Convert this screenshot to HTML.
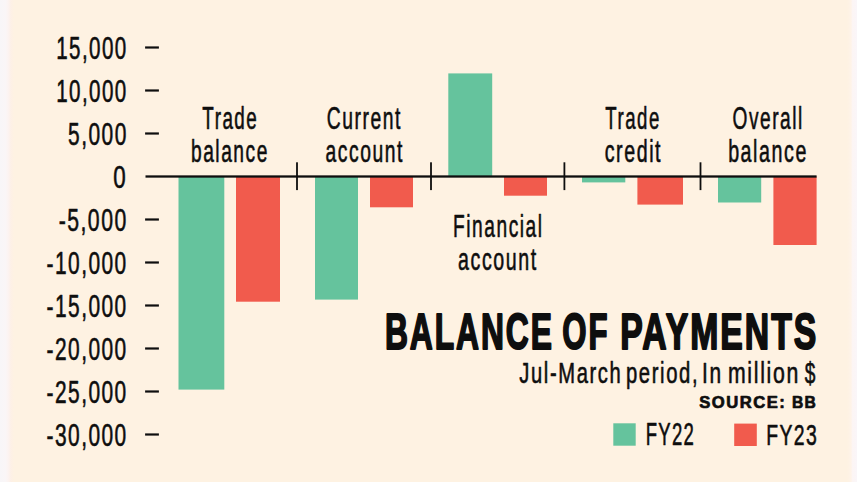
<!DOCTYPE html>
<html><head><meta charset="utf-8"><style>
html,body{margin:0;padding:0;background:#FEF2E2;width:857px;height:482px;overflow:hidden}
svg{display:block;font-family:"Liberation Sans",sans-serif}
</style></head><body>
<svg width="857" height="482" viewBox="0 0 857 482">
<rect x="0" y="0" width="857" height="482" fill="#FEF2E2"/>
<defs><linearGradient id="gl" x1="0" y1="0" x2="1" y2="0"><stop offset="0" stop-color="#F8F6F8"/><stop offset="0.4" stop-color="#FAF6F7"/><stop offset="0.62" stop-color="#FCF3F0"/><stop offset="0.78" stop-color="#FDF0E6"/><stop offset="1" stop-color="#FEF2E2"/></linearGradient><linearGradient id="gr" x1="0" y1="0" x2="1" y2="0"><stop offset="0" stop-color="#FEF2E2"/><stop offset="0.4" stop-color="#FEF3E8"/><stop offset="0.55" stop-color="#FCF5F4"/><stop offset="1" stop-color="#FAF6F9"/></linearGradient></defs>
<rect x="0" y="0" width="14" height="482" fill="url(#gl)"/>
<rect x="847" y="0" width="10" height="482" fill="url(#gr)"/>
<rect x="178.5" y="176.5" width="45.8" height="213.1" fill="#65C39D"/>
<rect x="236" y="176.5" width="44.0" height="125.2" fill="#F15B4D"/>
<rect x="315" y="176.5" width="43.0" height="123.1" fill="#65C39D"/>
<rect x="370" y="176.5" width="43.0" height="30.8" fill="#F15B4D"/>
<rect x="448.3" y="73.4" width="43.9" height="103.1" fill="#65C39D"/>
<rect x="504" y="176.5" width="43.0" height="19.2" fill="#F15B4D"/>
<rect x="582" y="176.5" width="43.3" height="5.9" fill="#65C39D"/>
<rect x="637.4" y="176.5" width="45.6" height="28.1" fill="#F15B4D"/>
<rect x="718" y="176.5" width="43.2" height="26.0" fill="#65C39D"/>
<rect x="773.4" y="176.5" width="43.2" height="68.5" fill="#F15B4D"/>
<rect x="145.5" y="175.35" width="671.1" height="2.3" fill="#0E0E0E"/>
<rect x="296.1" y="162.3" width="1.8" height="27.8" fill="#0E0E0E"/>
<rect x="430.1" y="162.3" width="1.8" height="27.8" fill="#0E0E0E"/>
<rect x="563.5" y="162.3" width="1.8" height="27.8" fill="#0E0E0E"/>
<rect x="699.6" y="162.3" width="1.8" height="27.8" fill="#0E0E0E"/>
<rect x="145.1" y="46.40" width="13.8" height="2.2" fill="#0E0E0E"/>
<rect x="145.1" y="89.40" width="13.8" height="2.2" fill="#0E0E0E"/>
<rect x="145.1" y="132.40" width="13.8" height="2.2" fill="#0E0E0E"/>
<rect x="145.1" y="218.40" width="13.8" height="2.2" fill="#0E0E0E"/>
<rect x="145.1" y="261.40" width="13.8" height="2.2" fill="#0E0E0E"/>
<rect x="145.1" y="304.40" width="13.8" height="2.2" fill="#0E0E0E"/>
<rect x="145.1" y="347.40" width="13.8" height="2.2" fill="#0E0E0E"/>
<rect x="145.1" y="390.40" width="13.8" height="2.2" fill="#0E0E0E"/>
<rect x="145.1" y="433.40" width="13.8" height="2.2" fill="#0E0E0E"/>
<rect x="613.3" y="423.3" width="22.4" height="22.4" fill="#65C39D"/>
<rect x="734.2" y="423.6" width="22.6" height="22.4" fill="#F15B4D"/>
<text x="56.14" y="58.80" font-size="30.81" font-weight="normal" letter-spacing="2.16" textLength="71.59" lengthAdjust="spacingAndGlyphs" fill="#0E0E0E" stroke="#0E0E0E" stroke-width="0.6" stroke-linejoin="round">15,000</text>
<text x="56.14" y="101.82" font-size="30.81" font-weight="normal" letter-spacing="2.16" textLength="71.59" lengthAdjust="spacingAndGlyphs" fill="#0E0E0E" stroke="#0E0E0E" stroke-width="0.6" stroke-linejoin="round">10,000</text>
<text x="68.07" y="144.84" font-size="30.81" font-weight="normal" letter-spacing="2.16" textLength="59.70" lengthAdjust="spacingAndGlyphs" fill="#0E0E0E" stroke="#0E0E0E" stroke-width="0.6" stroke-linejoin="round">5,000</text>
<text x="113.27" y="187.86" font-size="30.81" font-weight="normal" letter-spacing="2.16" textLength="14.00" lengthAdjust="spacingAndGlyphs" fill="#0E0E0E" stroke="#0E0E0E" stroke-width="0.6" stroke-linejoin="round">0</text>
<text x="58.66" y="230.88" font-size="30.81" font-weight="normal" letter-spacing="2.16" textLength="69.08" lengthAdjust="spacingAndGlyphs" fill="#0E0E0E" stroke="#0E0E0E" stroke-width="0.6" stroke-linejoin="round">-5,000</text>
<text x="46.53" y="273.90" font-size="30.81" font-weight="normal" letter-spacing="2.16" textLength="81.18" lengthAdjust="spacingAndGlyphs" fill="#0E0E0E" stroke="#0E0E0E" stroke-width="0.6" stroke-linejoin="round">-10,000</text>
<text x="46.53" y="316.92" font-size="30.81" font-weight="normal" letter-spacing="2.16" textLength="81.18" lengthAdjust="spacingAndGlyphs" fill="#0E0E0E" stroke="#0E0E0E" stroke-width="0.6" stroke-linejoin="round">-15,000</text>
<text x="46.53" y="359.94" font-size="30.81" font-weight="normal" letter-spacing="2.16" textLength="81.18" lengthAdjust="spacingAndGlyphs" fill="#0E0E0E" stroke="#0E0E0E" stroke-width="0.6" stroke-linejoin="round">-20,000</text>
<text x="46.53" y="402.96" font-size="30.81" font-weight="normal" letter-spacing="2.16" textLength="81.18" lengthAdjust="spacingAndGlyphs" fill="#0E0E0E" stroke="#0E0E0E" stroke-width="0.6" stroke-linejoin="round">-25,000</text>
<text x="46.53" y="445.98" font-size="30.81" font-weight="normal" letter-spacing="2.16" textLength="81.18" lengthAdjust="spacingAndGlyphs" fill="#0E0E0E" stroke="#0E0E0E" stroke-width="0.6" stroke-linejoin="round">-30,000</text>
<text x="202.33" y="128.70" font-size="30.45" font-weight="normal" letter-spacing="2.44" textLength="55.99" lengthAdjust="spacingAndGlyphs" fill="#0E0E0E" stroke="#0E0E0E" stroke-width="0.6" stroke-linejoin="round">Trade</text>
<text x="190.96" y="161.90" font-size="30.45" font-weight="normal" letter-spacing="2.44" textLength="77.96" lengthAdjust="spacingAndGlyphs" fill="#0E0E0E" stroke="#0E0E0E" stroke-width="0.6" stroke-linejoin="round">balance</text>
<text x="326.75" y="128.70" font-size="30.45" font-weight="normal" letter-spacing="2.44" textLength="75.15" lengthAdjust="spacingAndGlyphs" fill="#0E0E0E" stroke="#0E0E0E" stroke-width="0.6" stroke-linejoin="round">Current</text>
<text x="325.54" y="161.90" font-size="30.45" font-weight="normal" letter-spacing="2.44" textLength="78.31" lengthAdjust="spacingAndGlyphs" fill="#0E0E0E" stroke="#0E0E0E" stroke-width="0.6" stroke-linejoin="round">account</text>
<text x="453.08" y="237.40" font-size="30.45" font-weight="normal" letter-spacing="2.44" textLength="90.46" lengthAdjust="spacingAndGlyphs" fill="#0E0E0E" stroke="#0E0E0E" stroke-width="0.6" stroke-linejoin="round">Financial</text>
<text x="458.11" y="269.70" font-size="30.45" font-weight="normal" letter-spacing="2.44" textLength="79.59" lengthAdjust="spacingAndGlyphs" fill="#0E0E0E" stroke="#0E0E0E" stroke-width="0.6" stroke-linejoin="round">account</text>
<text x="605.32" y="128.70" font-size="30.45" font-weight="normal" letter-spacing="2.44" textLength="55.42" lengthAdjust="spacingAndGlyphs" fill="#0E0E0E" stroke="#0E0E0E" stroke-width="0.6" stroke-linejoin="round">Trade</text>
<text x="604.75" y="161.50" font-size="30.45" font-weight="normal" letter-spacing="2.44" textLength="57.36" lengthAdjust="spacingAndGlyphs" fill="#0E0E0E" stroke="#0E0E0E" stroke-width="0.6" stroke-linejoin="round">credit</text>
<text x="732.51" y="128.70" font-size="30.45" font-weight="normal" letter-spacing="2.44" textLength="71.29" lengthAdjust="spacingAndGlyphs" fill="#0E0E0E" stroke="#0E0E0E" stroke-width="0.6" stroke-linejoin="round">Overall</text>
<text x="728.13" y="161.90" font-size="30.45" font-weight="normal" letter-spacing="2.44" textLength="79.80" lengthAdjust="spacingAndGlyphs" fill="#0E0E0E" stroke="#0E0E0E" stroke-width="0.6" stroke-linejoin="round">balance</text>
<text x="384.94" y="348.50" font-size="50.73" font-weight="bold" letter-spacing="3.04" textLength="168.92" lengthAdjust="spacingAndGlyphs" fill="#0E0E0E" stroke="#0E0E0E" stroke-width="2.0" stroke-linejoin="round">BALANCE</text>
<text x="562.30" y="348.50" font-size="50.73" font-weight="bold" letter-spacing="3.04" textLength="46.99" lengthAdjust="spacingAndGlyphs" fill="#0E0E0E" stroke="#0E0E0E" stroke-width="2.0" stroke-linejoin="round">OF</text>
<text x="620.35" y="348.50" font-size="50.73" font-weight="bold" letter-spacing="3.04" textLength="197.91" lengthAdjust="spacingAndGlyphs" fill="#0E0E0E" stroke="#0E0E0E" stroke-width="2.0" stroke-linejoin="round">PAYMENTS</text>
<text x="519.36" y="382.50" font-size="28.90" font-weight="normal" letter-spacing="2.31" textLength="102.96" lengthAdjust="spacingAndGlyphs" fill="#0E0E0E" stroke="#0E0E0E" stroke-width="0.6" stroke-linejoin="round">Jul-March</text>
<text x="625.93" y="382.50" font-size="28.90" font-weight="normal" letter-spacing="2.31" textLength="73.22" lengthAdjust="spacingAndGlyphs" fill="#0E0E0E" stroke="#0E0E0E" stroke-width="0.6" stroke-linejoin="round">period,</text>
<text x="702.04" y="382.50" font-size="28.90" font-weight="normal" letter-spacing="2.31" textLength="20.71" lengthAdjust="spacingAndGlyphs" fill="#0E0E0E" stroke="#0E0E0E" stroke-width="0.6" stroke-linejoin="round">In</text>
<text x="727.95" y="382.50" font-size="28.90" font-weight="normal" letter-spacing="2.31" textLength="72.14" lengthAdjust="spacingAndGlyphs" fill="#0E0E0E" stroke="#0E0E0E" stroke-width="0.6" stroke-linejoin="round">million</text>
<text x="804.79" y="382.50" font-size="28.90" font-weight="normal" letter-spacing="2.31" textLength="12.17" lengthAdjust="spacingAndGlyphs" fill="#0E0E0E" stroke="#0E0E0E" stroke-width="0.6" stroke-linejoin="round">$</text>
<text x="699.17" y="407.65" font-size="16.42" font-weight="bold" letter-spacing="1.48" textLength="87.11" lengthAdjust="spacingAndGlyphs" fill="#0E0E0E" stroke="#0E0E0E" stroke-width="0.7" stroke-linejoin="round">SOURCE:</text>
<text x="791.90" y="407.65" font-size="16.42" font-weight="bold" letter-spacing="1.48" textLength="25.40" lengthAdjust="spacingAndGlyphs" fill="#0E0E0E" stroke="#0E0E0E" stroke-width="0.7" stroke-linejoin="round">BB</text>
<text x="645.71" y="445.10" font-size="30.77" font-weight="normal" letter-spacing="2.15" textLength="49.49" lengthAdjust="spacingAndGlyphs" fill="#0E0E0E" stroke="#0E0E0E" stroke-width="0.6" stroke-linejoin="round">FY22</text>
<text x="766.20" y="444.90" font-size="30.20" font-weight="normal" letter-spacing="2.11" textLength="51.89" lengthAdjust="spacingAndGlyphs" fill="#0E0E0E" stroke="#0E0E0E" stroke-width="0.6" stroke-linejoin="round">FY23</text>
</svg>
</body></html>
